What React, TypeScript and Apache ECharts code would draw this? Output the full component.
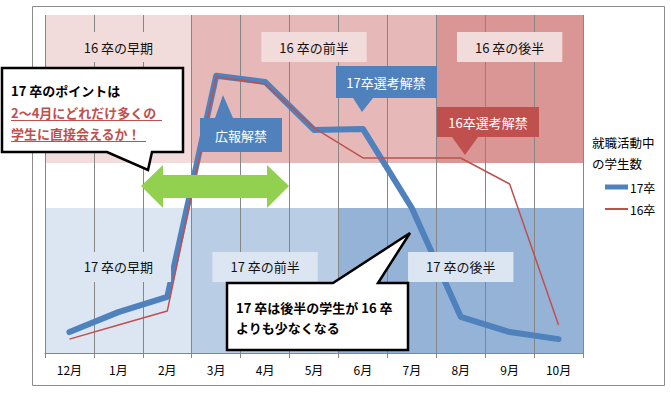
import React, { useEffect, useRef } from "react";
import * as echarts from "echarts";

const months = ["12月", "1月", "2月", "3月", "4月", "5月", "6月", "7月", "8月", "9月", "10月"];
const students17 = [6.2, 12.1, 16.6, 82.0, 80.2, 66.0, 66.3, 42.9, 10.7, 6.2, 4.1];
const students16 = [4.1, 8.3, 12.4, 81.7, 79.6, 66.6, 57.7, 57.7, 57.7, 50.0, 8.3];
const seriesNames = ["17卒", "16卒"];
const bands16 = [
  { label: "16 卒の早期", start: "12月", end: "2月" },
  { label: "16 卒の前半", start: "3月", end: "7月" },
  { label: "16 卒の後半", start: "8月", end: "10月" },
];
const bands17 = [
  { label: "17 卒の早期", start: "12月", end: "2月" },
  { label: "17 卒の前半", start: "3月", end: "5月" },
  { label: "17 卒の後半", start: "6月", end: "10月" },
];
const band16Range = [56.2, 100];
const band17Range = [0, 42.9];

const FONT = "'Noto Sans CJK JP', 'Noto Sans', sans-serif";
const band16Colors = ["#F2DCDB", "#E6B9B8", "#D99694"];
const band17Colors = ["#DCE6F2", "#B9CDE5", "#95B3D7"];

function bandAreas(bands: any[], range: number[], colors: string[], withLabel: boolean, labelBg: string, dist: number) {
  return bands.map((b, i) => [
    {
      name: b.label,
      xAxis: months.indexOf(b.start),
      yAxis: range[0],
      itemStyle: withLabel ? { color: "rgba(0,0,0,0)" } : { color: colors[i], opacity: 1 },
      label: withLabel
        ? {
            show: true,
            position: "insideTop",
            distance: dist,
            color: "#111",
            fontSize: 13,
            fontFamily: FONT,
            lineHeight: 14,
            backgroundColor: labelBg,
            padding: [8, 18],
          }
        : { show: false },
    },
    { xAxis: months.indexOf(b.end) + 1, yAxis: range[1] },
  ]);
}

export default function App() {
  const ref = useRef<HTMLDivElement>(null);
  useEffect(() => {
    const chart = echarts.init(ref.current!, null, { renderer: "svg" });
    const Z = 100;
    const txt = (text: string, x: number, y: number, extra: any = {}) => ({
      type: "text",
      x,
      y,
      z: Z + 1,
      style: {
        text,
        fontFamily: FONT,
        fontSize: 13,
        fill: "#000",
        textVerticalAlign: "middle",
        ...extra,
      },
    });
    const legendText = { fontSize: 12, color: "#000", fontFamily: FONT, padding: [0, 0, 0, -3] };
    const option: any = {
      animation: false,
      textStyle: { fontFamily: FONT },
      grid: { left: 45, right: 88, top: 15, bottom: 40 },
      legend: [
        {
          data: [seriesNames[0]],
          icon: "rect",
          left: 600,
          top: 176,
          itemWidth: 23,
          itemHeight: 5,
          textStyle: legendText,
        },
        {
          data: [seriesNames[1]],
          icon: "rect",
          left: 600,
          top: 198,
          itemWidth: 23,
          itemHeight: 2,
          textStyle: legendText,
        },
      ],
      xAxis: [
        {
          type: "category",
          data: months,
          boundaryGap: true,
          z: 3,
          axisLine: { lineStyle: { color: "#868686", width: 1 } },
          axisTick: { show: true, length: 5, lineStyle: { color: "#868686" } },
          splitLine: { show: true, lineStyle: { color: "#868686", width: 1 } },
          axisLabel: { fontSize: 12, color: "#000", margin: 10, fontFamily: FONT },
        },
        { type: "value", min: 0, max: 11, show: false },
      ],
      yAxis: {
        type: "value",
        min: 0,
        max: 100,
        show: false,
        splitLine: { show: false },
      },
      series: [
        {
          type: "line",
          xAxisIndex: 1,
          data: [],
          z: 1,
          silent: true,
          markArea: {
            silent: true,
            z: 1,
            data: [
              ...bandAreas(bands16, band16Range, band16Colors, false, "", 0),
              ...bandAreas(bands17, band17Range, band17Colors, false, "", 0),
            ],
          },
        },
        {
          name: seriesNames[0],
          type: "line",
          data: students17,
          symbol: "none",
          z: 5,
          lineStyle: { color: "#4F81BD", width: 6, join: "round", cap: "round" },
          itemStyle: { color: "#4F81BD" },
        },
        {
          name: seriesNames[1],
          type: "line",
          data: students16,
          symbol: "none",
          z: 6,
          lineStyle: { color: "#C0504D", width: 1.5 },
          itemStyle: { color: "#C0504D" },
        },
        {
          type: "line",
          xAxisIndex: 1,
          data: [],
          z: 8,
          silent: true,
          markArea: {
            silent: true,
            z: 20,
            data: [
              ...bandAreas(bands16, band16Range, band16Colors, true, band16Colors[0], 17),
              ...bandAreas(bands17, band17Range, band17Colors, true, band17Colors[0], 44),
            ],
          },
        },
      ],
      graphic: [
        {
          type: "rect",
          z: Z,
          shape: { x: 32.5, y: 6.5, width: 632, height: 379 },
          style: { fill: "none", stroke: "#8c8c8c", lineWidth: 1 },
        },
        {
          type: "polygon",
          z: Z,
          shape: {
            points: [
              [141, 186], [163, 165], [163, 175], [267, 175], [267, 165],
              [289, 186], [267, 208], [267, 198], [163, 198], [163, 208],
            ],
          },
          style: { fill: "#92D050" },
        },
        {
          type: "polygon",
          z: Z,
          shape: {
            points: [[200, 118], [215, 118], [223, 95], [233, 118], [282, 118], [282, 152], [200, 152]],
          },
          style: { fill: "#4F81BD" },
        },
        txt("広報解禁", 241, 135, { fill: "#fff", textAlign: "center" }),
        {
          type: "polygon",
          z: Z,
          shape: {
            points: [[336, 66], [437, 66], [437, 98], [373, 98], [362, 112], [353, 98], [336, 98]],
          },
          style: { fill: "#4F81BD" },
        },
        txt("17卒選考解禁", 386, 82, { fill: "#fff", textAlign: "center" }),
        {
          type: "polygon",
          z: Z,
          shape: {
            points: [[437, 107], [539, 107], [539, 137], [478, 137], [465, 155], [452, 137], [437, 137]],
          },
          style: { fill: "#C0504D" },
        },
        txt("16卒選考解禁", 488, 122, { fill: "#fff", textAlign: "center" }),
        {
          type: "polygon",
          z: Z,
          shape: {
            points: [[2, 68], [183, 68], [183, 152], [152, 152], [148, 170], [107, 152], [2, 152]],
          },
          style: { fill: "#fff", stroke: "#000", lineWidth: 2.5 },
        },
        txt("17 卒のポイントは", 11, 90, { fontWeight: "bold" }),
        txt("2～4月にどれだけ多くの", 11, 112, { fontWeight: "bold", fill: "#C0504D" }),
        txt("学生に直接会えるか！", 11, 133, { fontWeight: "bold", fill: "#C0504D" }),
        {
          type: "line",
          z: Z + 1,
          shape: { x1: 11, y1: 120.5, x2: 162, y2: 120.5 },
          style: { stroke: "#C0504D", lineWidth: 1 },
        },
        {
          type: "line",
          z: Z + 1,
          shape: { x1: 11, y1: 141.5, x2: 146, y2: 141.5 },
          style: { stroke: "#C0504D", lineWidth: 1 },
        },
        {
          type: "polygon",
          z: Z,
          shape: {
            points: [[227, 283], [333, 283], [410, 233], [378, 283], [408, 283], [408, 350], [227, 350]],
          },
          style: { fill: "#fff", stroke: "#000", lineWidth: 2.5 },
        },
        txt("17 卒は後半の学生が 16 卒", 236, 307, { fontWeight: "bold" }),
        txt("よりも少なくなる", 236, 327, { fontWeight: "bold" }),
        txt("就職活動中", 592, 142, { fontSize: 12.5 }),
        txt("の学生数", 592, 163, { fontSize: 12.5 }),
      ],
    };
    chart.setOption(option);
    return () => chart.dispose();
  }, []);
  return (
    <div
      ref={ref}
      style={{ position: "fixed", left: 0, top: 0, width: 671, height: 393, background: "#fff" }}
    />
  );
}
